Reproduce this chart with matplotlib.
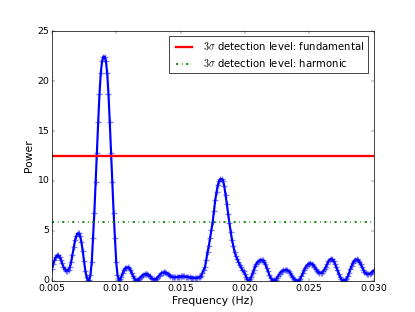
import numpy as np
import matplotlib
matplotlib.use('Agg')
import matplotlib.pyplot as plt
from matplotlib.ticker import FormatStrFormatter

# Frequency grid (Hz) and periodogram power
freq_start = 0.005
freq_stop = 0.030
power = [
    1.2, 1.65, 2.05, 2.35, 2.55, 2.55, 2.4, 2.1, 1.75, 1.4,
    1.15, 1.02, 1.0, 1.1, 1.4, 1.9, 2.6, 3.35, 4.05, 4.5,
    4.75, 4.75, 4.45, 3.85, 2.95, 1.95, 1.0, 0.35, 0.05, 0.05,
    0.6, 1.9, 4.3, 6.8, 9.9, 12.8, 15.9, 18.7, 20.8, 22.0,
    22.45, 22.45, 22.0, 20.8, 18.7, 15.9, 12.8, 9.9, 6.8, 4.3,
    1.9, 0.6, 0.05, 0.15, 0.4, 0.75, 1.05, 1.25, 1.33, 1.35,
    1.3, 1.1, 0.8, 0.5, 0.25, 0.1, 0.05, 0.1, 0.2, 0.35,
    0.5, 0.6, 0.67, 0.7, 0.68, 0.6, 0.48, 0.33, 0.22, 0.15,
    0.13, 0.18, 0.3, 0.45, 0.62, 0.75, 0.83, 0.86, 0.85, 0.8,
    0.7, 0.6, 0.5, 0.42, 0.37, 0.35, 0.36, 0.38, 0.41, 0.43,
    0.45, 0.45, 0.45, 0.44, 0.42, 0.4, 0.37, 0.35, 0.33, 0.32,
    0.31, 0.3, 0.3, 0.31, 0.35, 0.4, 0.5, 0.8, 1.1, 1.4,
    2.1, 2.9, 3.5, 4.3, 5.1, 5.9, 7.0, 8.1, 8.9, 9.6,
    10.0, 10.2, 10.2, 10.0, 9.5, 8.6, 7.7, 6.7, 5.8, 4.9,
    4.1, 3.5, 2.9, 2.5, 2.2, 1.9, 1.6, 1.35, 1.1, 0.95,
    0.7, 0.4, 0.15, 0.05, 0.15, 0.4, 0.75, 1.1, 1.45, 1.7,
    1.9, 2.02, 2.08, 2.1, 2.05, 1.9, 1.65, 1.3, 0.95, 0.6,
    0.3, 0.1, 0.02, 0.05, 0.12, 0.3, 0.5, 0.7, 0.87, 0.98,
    1.05, 1.08, 1.1, 1.07, 0.98, 0.83, 0.62, 0.42, 0.23, 0.1,
    0.03, 0.0, 0.05, 0.2, 0.45, 0.75, 1.05, 1.3, 1.5, 1.65,
    1.73, 1.76, 1.72, 1.6, 1.42, 1.22, 1.02, 0.88, 0.8, 0.78,
    0.82, 0.95, 1.15, 1.4, 1.7, 1.95, 2.12, 2.2, 2.15, 1.98,
    1.72, 1.4, 1.05, 0.7, 0.4, 0.17, 0.04, 0.0, 0.05, 0.2,
    0.45, 0.8, 1.15, 1.5, 1.8, 2.0, 2.12, 2.15, 2.08, 1.92,
    1.68, 1.4, 1.12, 0.9, 0.75, 0.68, 0.67, 0.7, 0.78, 0.9,
    1.02,
]
freq = np.linspace(freq_start, freq_stop, len(power))

# 3 sigma detection levels
level_fundamental = 12.5
level_harmonic = 5.92

x_ticks = [0.005, 0.010, 0.015, 0.020, 0.025, 0.030]
y_ticks = [0, 5, 10, 15, 20, 25]

plt.style.use('classic')
plt.rcParams['figure.facecolor'] = 'white'
plt.rcParams['savefig.facecolor'] = 'white'

dpi = 51.875
fig = plt.figure(figsize=(415 / dpi, 312 / dpi), dpi=dpi)
ax = fig.add_subplot(111)

# core line, then the light '+' markers over it
ax.plot(freq, power, color='b', linewidth=3.0)
ax.plot(freq, power, linestyle='none', marker='+', color='b',
        markersize=7.5, markeredgewidth=1.8, alpha=0.5)
ax.axhline(level_fundamental, color='r', linewidth=3.2,
           label=r'$3\sigma$ detection level: fundamental')
ax.axhline(level_harmonic, color='g', linestyle='-.', linewidth=2.4,
           label=r'$3\sigma$ detection level: harmonic')

ax.set_xlim(freq_start, freq_stop)
ax.set_ylim(0, 25)
ax.set_xticks(x_ticks)
ax.set_yticks(y_ticks)
ax.xaxis.set_major_formatter(FormatStrFormatter('%.3f'))
ax.tick_params(labelsize=13)
ax.set_xlabel('Frequency (Hz)', fontsize=15)
ax.set_ylabel('Power', fontsize=15)

handles, labels = ax.get_legend_handles_labels()
ax.legend(handles, labels, loc='upper right', fontsize=14, handlelength=2.2)

fig.savefig('out.png', dpi=dpi)
